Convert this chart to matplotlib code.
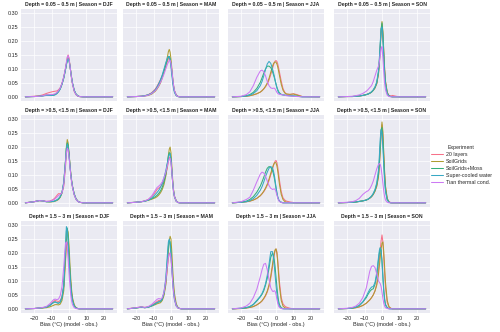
import matplotlib
matplotlib.use('Agg')
import matplotlib.pyplot as plt
import seaborn as sns

sns.set_theme(style='darkgrid')
plt.rcParams['font.family'] = ['Liberation Sans', 'DejaVu Sans']

# ---------------- data (density of bias) ----------------
bias_grid = [-25, -20, -17, -15, -13, -11, -9, -8, -7, -6, -5, -4, -3, -2, -1.5, -1,
             -0.5, 0, 0.5, 1, 1.5, 2, 3, 4, 5, 6, 8, 10, 12, 15, 25]

experiments = ['20 layers', 'SoilGrids', 'SoilGrids+Moss', 'Super-cooled water', 'Tian thermal cond.']
depths = ['0.05 – 0.5 m', '>0.5, <1.5 m', '1.5 – 3 m']
seasons = ['DJF', 'MAM', 'JJA', 'SON']
x_ticks = [-20, -10, 0, 10, 20]
y_ticks = [0.0, 0.05, 0.10, 0.15, 0.20, 0.25, 0.30]

d1_djf = [
    [0, .002, .004, .007, .012, .016, .019, .020, .021, .025, .033, .048, .070, .100, .120, .140, .150, .140, .115, .090, .066, .047, .020, .008, .003, .001, 0, 0, 0, 0, 0],
    [0, .001, .002, .004, .006, .007, .007, .009, .013, .020, .030, .047, .070, .100, .118, .133, .140, .134, .114, .090, .067, .048, .022, .009, .003, .001, 0, 0, 0, 0, 0],
    [0, .001, .002, .004, .006, .006, .006, .008, .012, .019, .029, .046, .068, .098, .116, .130, .138, .132, .113, .090, .068, .049, .023, .010, .004, .001, 0, 0, 0, 0, 0],
    [0, .001, .002, .003, .005, .005, .005, .007, .011, .018, .028, .045, .067, .097, .115, .128, .135, .130, .112, .090, .068, .050, .024, .010, .004, .001, 0, 0, 0, 0, 0],
    [0, .001, .002, .004, .007, .008, .009, .011, .015, .022, .032, .049, .072, .104, .124, .142, .148, .138, .114, .089, .065, .046, .020, .008, .003, .001, 0, 0, 0, 0, 0],
]
d1_mam = [
    [0, .001, .002, .004, .008, .015, .028, .038, .050, .062, .075, .090, .108, .128, .136, .140, .135, .118, .090, .062, .038, .022, .007, .002, 0, 0, 0, 0, 0, 0, 0],
    [0, .001, .002, .003, .005, .010, .020, .028, .038, .050, .068, .090, .115, .145, .162, .170, .160, .135, .100, .065, .038, .020, .005, .001, 0, 0, 0, 0, 0, 0, 0],
    [0, .001, .002, .004, .007, .013, .024, .033, .045, .058, .075, .095, .115, .135, .142, .145, .138, .118, .090, .060, .036, .020, .006, .001, 0, 0, 0, 0, 0, 0, 0],
    [0, .001, .002, .004, .007, .013, .025, .035, .047, .061, .079, .100, .122, .140, .145, .143, .130, .105, .075, .048, .028, .015, .004, .001, 0, 0, 0, 0, 0, 0, 0],
    [0, .001, .002, .003, .006, .012, .022, .030, .040, .052, .066, .082, .100, .118, .124, .130, .131, .120, .095, .066, .040, .022, .006, .001, 0, 0, 0, 0, 0, 0, 0],
]
d1_jja = [
    [0, .001, .002, .004, .007, .011, .017, .022, .028, .036, .046, .060, .080, .102, .113, .122, .128, .130, .127, .118, .104, .088, .056, .030, .016, .010, .008, .011, .008, .001, 0],
    [0, .001, .002, .004, .007, .011, .017, .022, .029, .038, .050, .066, .088, .110, .118, .123, .125, .124, .118, .107, .092, .076, .045, .024, .014, .010, .009, .010, .006, .001, 0],
    [0, .001, .004, .008, .016, .030, .052, .068, .085, .100, .110, .110, .105, .090, .080, .070, .058, .046, .035, .026, .019, .014, .009, .007, .006, .005, .004, .003, .002, 0, 0],
    [0, .001, .003, .006, .012, .022, .040, .055, .075, .098, .118, .127, .120, .100, .088, .075, .060, .045, .032, .022, .015, .011, .008, .007, .006, .005, .004, .003, .002, 0, 0],
    [0, .002, .008, .018, .040, .070, .093, .096, .090, .075, .055, .040, .032, .030, .031, .031, .028, .022, .016, .012, .010, .009, .008, .007, .006, .004, .003, .002, .001, 0, 0],
]
d1_son = [
    [0, .001, .001, .002, .003, .005, .008, .010, .013, .017, .023, .032, .047, .082, .120, .172, .230, .260, .228, .162, .100, .056, .016, .005, .003, .005, .002, 0, 0, 0, 0],
    [0, .001, .001, .002, .003, .005, .008, .010, .013, .017, .023, .032, .048, .085, .125, .180, .240, .270, .235, .165, .100, .055, .015, .004, .001, 0, 0, 0, 0, 0, 0],
    [0, .001, .001, .002, .003, .005, .008, .010, .013, .017, .024, .034, .050, .088, .130, .185, .243, .265, .225, .155, .092, .050, .013, .003, .001, 0, 0, 0, 0, 0, 0],
    [0, .001, .001, .002, .003, .005, .008, .010, .013, .018, .025, .036, .054, .095, .140, .195, .245, .250, .205, .140, .082, .044, .011, .003, .001, 0, 0, 0, 0, 0, 0],
    [0, .001, .002, .004, .007, .012, .020, .026, .033, .040, .055, .075, .095, .110, .125, .150, .175, .180, .140, .090, .050, .025, .006, .001, 0, 0, 0, 0, 0, 0, 0],
]
d2_djf = [
    [0, .004, .008, .007, .005, .006, .012, .018, .026, .033, .032, .036, .060, .130, .175, .198, .200, .175, .138, .104, .078, .058, .030, .014, .006, .002, 0, 0, 0, 0, 0],
    [0, .004, .008, .007, .004, .003, .004, .006, .008, .012, .020, .035, .070, .150, .200, .227, .215, .180, .140, .105, .078, .058, .030, .014, .006, .002, 0, 0, 0, 0, 0],
    [0, .004, .008, .007, .004, .004, .005, .007, .010, .014, .022, .037, .072, .150, .195, .215, .208, .178, .140, .106, .080, .060, .032, .015, .006, .002, 0, 0, 0, 0, 0],
    [0, .004, .008, .007, .004, .004, .005, .007, .010, .015, .023, .038, .075, .152, .195, .210, .200, .170, .134, .102, .077, .058, .030, .014, .006, .002, 0, 0, 0, 0, 0],
    [0, .004, .008, .007, .005, .006, .010, .014, .020, .026, .030, .036, .065, .140, .180, .195, .190, .165, .132, .100, .075, .056, .028, .013, .005, .002, 0, 0, 0, 0, 0],
]
d2_mam = [
    [0, .002, .004, .007, .012, .022, .038, .048, .053, .058, .066, .080, .100, .130, .148, .160, .165, .150, .110, .070, .040, .022, .006, .001, 0, 0, 0, 0, 0, 0, 0],
    [0, .002, .004, .006, .009, .013, .018, .022, .028, .036, .048, .066, .095, .140, .170, .192, .200, .180, .130, .080, .045, .024, .007, .002, 0, 0, 0, 0, 0, 0, 0],
    [0, .002, .004, .006, .010, .015, .022, .027, .034, .043, .056, .075, .103, .145, .168, .180, .178, .155, .112, .070, .040, .022, .006, .001, 0, 0, 0, 0, 0, 0, 0],
    [0, .002, .004, .006, .010, .017, .030, .037, .045, .056, .070, .090, .115, .145, .162, .173, .175, .155, .112, .070, .040, .021, .006, .001, 0, 0, 0, 0, 0, 0, 0],
    [0, .002, .004, .007, .012, .025, .045, .055, .060, .066, .075, .090, .110, .135, .148, .158, .160, .145, .110, .070, .040, .022, .006, .001, 0, 0, 0, 0, 0, 0, 0],
]
d2_jja = [
    [0, .002, .004, .006, .010, .016, .025, .032, .040, .050, .063, .080, .100, .122, .133, .142, .149, .152, .145, .128, .105, .080, .040, .018, .010, .006, .003, .001, 0, 0, 0],
    [0, .002, .004, .006, .010, .016, .026, .033, .042, .053, .067, .085, .106, .126, .135, .142, .145, .143, .133, .114, .090, .066, .030, .012, .005, .002, .001, 0, 0, 0, 0],
    [0, .002, .006, .012, .022, .038, .060, .075, .092, .110, .124, .130, .128, .115, .105, .090, .072, .052, .034, .020, .011, .006, .002, 0, 0, 0, 0, 0, 0, 0, 0],
    [0, .002, .004, .008, .015, .027, .045, .058, .075, .094, .110, .124, .130, .125, .115, .100, .080, .058, .038, .022, .012, .006, .002, 0, 0, 0, 0, 0, 0, 0, 0],
    [0, .004, .012, .020, .045, .075, .103, .110, .107, .095, .078, .062, .052, .048, .049, .050, .048, .040, .028, .017, .009, .005, .001, 0, 0, 0, 0, 0, 0, 0, 0],
]
d2_son = [
    [0, .001, .002, .003, .005, .007, .010, .013, .017, .022, .030, .042, .060, .095, .135, .188, .250, .280, .245, .172, .105, .057, .015, .004, .001, 0, 0, 0, 0, 0, 0],
    [0, .001, .002, .003, .005, .007, .010, .013, .017, .022, .030, .042, .060, .095, .135, .190, .255, .290, .255, .180, .110, .060, .015, .003, 0, 0, 0, 0, 0, 0, 0],
    [0, .001, .002, .003, .005, .007, .010, .013, .017, .023, .032, .045, .066, .105, .150, .210, .262, .270, .225, .155, .092, .048, .012, .002, 0, 0, 0, 0, 0, 0, 0],
    [0, .001, .002, .003, .005, .007, .010, .013, .018, .024, .034, .048, .072, .118, .170, .230, .262, .250, .198, .132, .076, .040, .010, .002, 0, 0, 0, 0, 0, 0, 0],
    [0, .002, .004, .008, .016, .030, .040, .043, .050, .062, .078, .100, .122, .138, .141, .138, .125, .100, .070, .042, .022, .010, .002, 0, 0, 0, 0, 0, 0, 0, 0],
]
d3_djf = [
    [0, .001, .003, .004, .007, .014, .026, .030, .028, .026, .030, .045, .085, .180, .225, .240, .220, .180, .130, .088, .055, .034, .012, .004, .001, 0, 0, 0, 0, 0, 0],
    [0, .001, .002, .003, .004, .007, .012, .015, .015, .014, .017, .030, .065, .170, .245, .285, .275, .230, .165, .110, .068, .040, .014, .004, .001, 0, 0, 0, 0, 0, 0],
    [0, .001, .003, .004, .006, .012, .022, .025, .022, .020, .024, .040, .080, .210, .280, .290, .260, .200, .140, .090, .055, .032, .010, .003, .001, 0, 0, 0, 0, 0, 0],
    [0, .001, .003, .004, .006, .012, .022, .025, .022, .020, .025, .042, .085, .220, .295, .280, .240, .180, .125, .080, .048, .028, .009, .003, .001, 0, 0, 0, 0, 0, 0],
    [0, .001, .003, .005, .008, .018, .032, .035, .033, .035, .048, .080, .150, .235, .240, .220, .180, .130, .085, .050, .028, .015, .004, .001, 0, 0, 0, 0, 0, 0, 0],
]
d3_mam = [
    [0, .004, .007, .005, .007, .013, .022, .026, .030, .030, .035, .055, .090, .150, .180, .198, .200, .185, .145, .100, .063, .037, .012, .003, .001, 0, 0, 0, 0, 0, 0],
    [0, .003, .006, .004, .006, .010, .015, .018, .020, .022, .030, .048, .085, .160, .210, .245, .260, .250, .200, .140, .090, .055, .018, .005, .001, 0, 0, 0, 0, 0, 0],
    [0, .003, .006, .004, .006, .011, .018, .022, .025, .026, .034, .055, .098, .180, .225, .245, .240, .210, .160, .108, .068, .040, .013, .004, .001, 0, 0, 0, 0, 0, 0],
    [0, .003, .006, .004, .006, .011, .018, .022, .025, .027, .036, .060, .110, .200, .240, .250, .230, .190, .140, .092, .056, .032, .010, .003, .001, 0, 0, 0, 0, 0, 0],
    [0, .004, .007, .005, .008, .016, .028, .034, .037, .035, .040, .060, .100, .160, .185, .198, .200, .182, .140, .095, .060, .035, .011, .003, .001, 0, 0, 0, 0, 0, 0],
]
d3_jja = [
    [0, .001, .003, .005, .008, .014, .022, .028, .036, .046, .060, .080, .110, .150, .172, .192, .208, .215, .205, .175, .135, .095, .040, .018, .010, .006, .002, 0, 0, 0, 0],
    [0, .001, .003, .005, .008, .014, .023, .029, .038, .049, .064, .086, .118, .160, .182, .200, .212, .215, .200, .165, .120, .080, .030, .010, .004, .002, 0, 0, 0, 0, 0],
    [0, .002, .004, .008, .015, .028, .043, .052, .065, .085, .110, .145, .185, .200, .192, .175, .150, .115, .080, .050, .028, .015, .004, .001, 0, 0, 0, 0, 0, 0, 0],
    [0, .002, .004, .008, .016, .030, .045, .055, .070, .090, .120, .160, .205, .205, .185, .155, .120, .085, .055, .032, .017, .008, .002, 0, 0, 0, 0, 0, 0, 0, 0],
    [0, .003, .010, .020, .040, .070, .115, .140, .160, .163, .140, .105, .075, .063, .062, .065, .063, .052, .035, .020, .010, .005, .001, 0, 0, 0, 0, 0, 0, 0, 0],
]
d3_son = [
    [0, .001, .002, .004, .007, .012, .020, .026, .032, .040, .050, .065, .090, .140, .175, .210, .245, .265, .240, .185, .125, .075, .022, .006, .002, 0, 0, 0, 0, 0, 0],
    [0, .001, .002, .004, .007, .012, .020, .026, .032, .040, .050, .064, .085, .125, .155, .185, .215, .235, .240, .205, .150, .095, .030, .008, .002, 0, 0, 0, 0, 0, 0],
    [0, .001, .003, .006, .012, .024, .040, .052, .062, .069, .072, .088, .120, .175, .200, .218, .210, .175, .120, .070, .036, .016, .004, .001, 0, 0, 0, 0, 0, 0, 0],
    [0, .001, .003, .006, .012, .025, .045, .058, .070, .078, .080, .095, .130, .185, .210, .220, .205, .165, .110, .062, .030, .013, .003, 0, 0, 0, 0, 0, 0, 0, 0],
    [0, .002, .005, .010, .020, .040, .075, .105, .135, .152, .155, .148, .125, .100, .095, .090, .080, .060, .038, .020, .010, .004, .001, 0, 0, 0, 0, 0, 0, 0, 0],
]

panels = [[d1_djf, d1_mam, d1_jja, d1_son],
          [d2_djf, d2_mam, d2_jja, d2_son],
          [d3_djf, d3_mam, d3_jja, d3_son]]

# ---------------- layout ----------------
W, H = 500, 332
fig = plt.figure(figsize=(W / 100, H / 100), dpi=100)
col_left = [21, 123, 228, 334]
col_w = 96
row_top = [9, 115, 221]
row_h = 92
colors = sns.color_palette('husl', 5)
txt = '#262626'

handles = []
for r in range(3):
    for c in range(4):
        ax = fig.add_axes([col_left[c] / W, 1 - (row_top[r] + row_h) / H, col_w / W, row_h / H])
        ax.set_facecolor('#EAEAF2')
        for s in ax.spines.values():
            s.set_visible(False)
        ax.grid(True, color='white', lw=0.5)
        ax.set_axisbelow(True)
        for k, vals in enumerate(panels[r][c]):
            ln, = ax.plot(bias_grid, vals, color=colors[k], lw=0.75, label=experiments[k])
            if r == 0 and c == 0:
                handles.append(ln)
        ax.set_xlim(-27.5, 27.5)
        ax.set_ylim(-0.015, 0.315)
        ax.set_xticks(x_ticks)
        ax.set_yticks(y_ticks)
        ax.tick_params(length=0, labelsize=3.9, pad=2, colors=txt)
        ax.set_yticklabels([f'{v:.2f}' for v in y_ticks])
        if c != 0:
            ax.tick_params(labelleft=False)
        if r != 2:
            ax.tick_params(labelbottom=False)
        else:
            ax.set_xlabel('Bias (°C) (model - obs.)', fontsize=4.0, labelpad=1.0, color=txt)
        ax.set_title(f'Depth = {depths[r]} | Season = {seasons[c]}', fontsize=3.7,
                     fontweight='bold', pad=2, color=txt)

leg = fig.legend(handles, experiments, title='Experiment', loc='center left',
                 bbox_to_anchor=(431 / W, 0.504), frameon=False, fontsize=3.75,
                 title_fontsize=3.75, handlelength=2.25, labelspacing=0.38,
                 borderaxespad=0, borderpad=0, handletextpad=0.6)
for t in leg.get_texts():
    t.set_color(txt)
leg.get_title().set_color(txt)

fig.savefig('out.png', dpi=100)
